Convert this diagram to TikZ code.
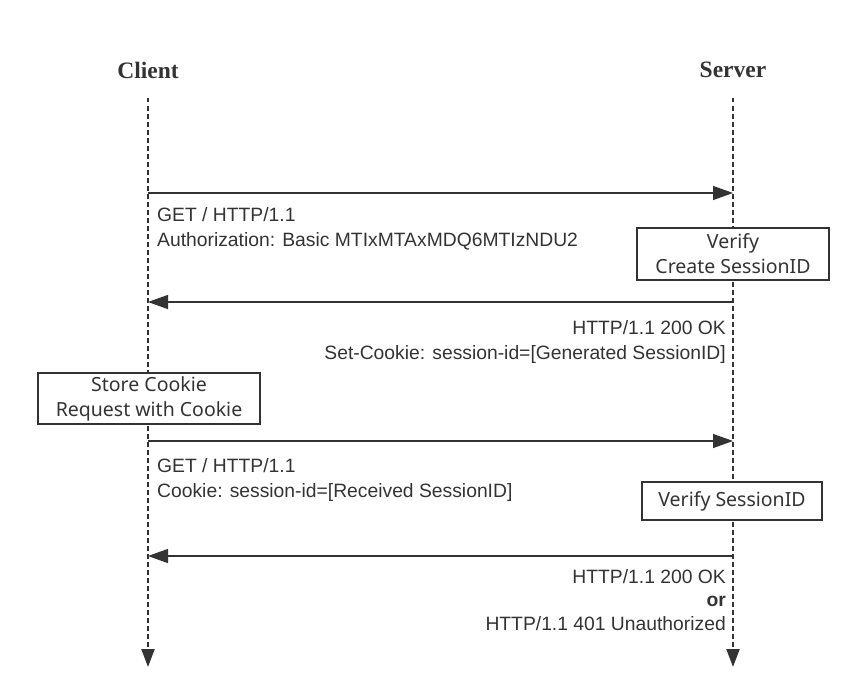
\documentclass[tikz,border=0pt]{standalone}
\usepackage{fontspec}
\setmainfont{Liberation Sans}
\newfontfamily\titlefont{Liberation Serif}
\newfontfamily\boxfont{Noto Sans}
\usetikzlibrary{arrows.meta}
\definecolor{ink}{HTML}{333333}
\begin{document}
\begin{tikzpicture}[x=1pt,y=-1pt,
  lifeline/.style={draw=ink,line width=2.2pt,dash pattern=on 4.5pt off 3.5pt,-{Triangle[length=18pt,width=13pt]}},
  msg/.style={draw=ink,line width=1.4pt,-{Triangle[length=20pt,width=14pt]}},
  actor/.style={font=\titlefont\bfseries\fontsize{23.5}{28}\selectfont,text=ink},
  lbl/.style={font=\fontsize{19.3}{25}\selectfont,text=ink,inner sep=0pt},
  proc/.style={draw=ink,line width=1.6pt,fill=white,font=\boxfont\fontsize{19.5}{25}\selectfont,text=ink,align=center,inner sep=0pt}
]
\useasboundingbox (0,0) rectangle (866,698);
\node[actor] (client) at (148,70) {Client};
\node[actor] (server) at (733,70) {Server};
\coordinate (cTop) at (148,98);
\coordinate (sTop) at (733,98);
\coordinate (cEnd) at (148,667);
\coordinate (sEnd) at (733,667);
\draw[lifeline] (cTop) -- (cEnd);
\draw[lifeline] (sTop) -- (sEnd);
% message 1
\coordinate (c1) at (148,193); \coordinate (s1) at (733,193);
\draw[msg] (c1) -- (s1);
\node[lbl,anchor=north west,align=left] (m1) at (157,207) {GET / HTTP/1.1\\Authorization: Basic MTIxMTAxMDQ6MTIzNDU2};
\node[proc,minimum width=192pt,minimum height=52pt] (verify) at (733,254) {Verify\\Create SessionID};
% message 2
\coordinate (s2) at (733,302); \coordinate (c2) at (148,302);
\draw[msg] (s2) -- (c2);
\node[lbl,anchor=north east,align=right] (m2) at (726,320) {HTTP/1.1 200 OK\\Set-Cookie: session-id=[Generated SessionID]};
\node[proc,minimum width=222pt,minimum height=51pt] (store) at (149,398.5) {Store Cookie\\Request with Cookie};
% message 3
\coordinate (c3) at (148,441); \coordinate (s3) at (733,441);
\draw[msg] (c3) -- (s3);
\draw[ink,line width=2.6pt] (c3) -- ++(32,0);
\node[lbl,anchor=north west,align=left] (m3) at (157,458) {GET / HTTP/1.1\\Cookie: session-id=[Received SessionID]};
\node[proc,minimum width=180pt,minimum height=38pt] (vsid) at (732,501) {Verify SessionID};
% message 4
\coordinate (s4) at (733,556); \coordinate (c4) at (148,556);
\draw[msg] (s4) -- (c4);
\draw[ink,line width=2.6pt] (s4) -- ++(-32,0);
\node[lbl,anchor=north east,align=right,font=\fontsize{19.3}{23.5}\selectfont] (m4) at (726,569) {HTTP/1.1 200 OK\\\textbf{or}\\HTTP/1.1 401 Unauthorized};
\end{tikzpicture}
\end{document}
